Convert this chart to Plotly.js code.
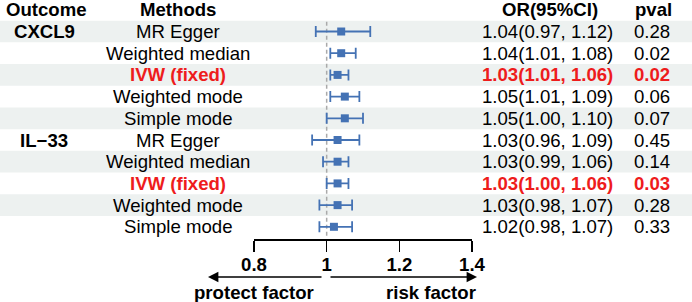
<!DOCTYPE html>
<html>
<head>
<meta charset="utf-8">
<script src="https://cdn.plot.ly/plotly-3.0.1.min.js"></script>
<style>html,body{margin:0;padding:0;background:#fff}#chart{width:692px;height:302px}</style>
</head>
<body>
<div id="chart"></div>
<script>
// ---- data ----
const outcomes = ['CXCL9', '', '', '', '', 'IL\u221233', '', '', '', ''];
const methods = ['MR Egger', 'Weighted median', 'IVW (fixed)', 'Weighted mode', 'Simple mode',
                 'MR Egger', 'Weighted median', 'IVW (fixed)', 'Weighted mode', 'Simple mode'];
const orVals = [1.04, 1.04, 1.03, 1.05, 1.05, 1.03, 1.03, 1.03, 1.03, 1.02];
const ciLow  = [0.97, 1.01, 1.01, 1.01, 1.00, 0.96, 0.99, 1.00, 0.98, 0.98];
const ciHigh = [1.12, 1.08, 1.06, 1.09, 1.10, 1.09, 1.06, 1.06, 1.07, 1.07];
const pvals  = ['0.28', '0.02', '0.02', '0.06', '0.07', '0.45', '0.14', '0.03', '0.28', '0.33'];
const highlight = [false, false, true, false, false, false, false, true, false, false];
const tickVals = [0.8, 1, 1.2, 1.4];
const tickLabels = ['0.8', '1', '1.2', '1.4'];
const headers = ['Outcome', 'Methods', 'OR(95%CI)', 'pval'];

// ---- layout helpers ----
const W = 692;
const FONT = 'Liberation Sans, Arial, Helvetica, sans-serif';
const RED = '#EE1C1C';
const BLUE = '#4472B4';
const FS = 18.6;
const rows = orVals.map((_, i) => i + 1);

const annotations = [];
const colX = {outcome: 44, method: 178, or: 547, p: 652};
const headX = [47, 178, 550, 653];
headers.forEach((h, k) => {
  annotations.push({xref: 'paper', yref: 'y', x: headX[k] / W, y: 0, text: '<b>' + h + '</b>',
    showarrow: false, xanchor: 'center', yanchor: 'middle', font: {family: FONT, size: FS, color: '#000'}});
});
rows.forEach((r, i) => {
  const col = highlight[i] ? RED : '#000';
  const b = s => highlight[i] ? '<b>' + s + '</b>' : s;
  if (outcomes[i]) annotations.push({xref: 'paper', yref: 'y', x: colX.outcome / W, y: r,
    text: '<b>' + outcomes[i] + '</b>', showarrow: false, xanchor: 'center', yanchor: 'middle',
    font: {family: FONT, size: FS, color: '#000'}});
  annotations.push({xref: 'paper', yref: 'y', x: colX.method / W, y: r, text: b(methods[i]),
    showarrow: false, xanchor: 'center', yanchor: 'middle', font: {family: FONT, size: FS, color: col}});
  const orTxt = orVals[i].toFixed(2) + '(' + ciLow[i].toFixed(2) + ', ' + ciHigh[i].toFixed(2) + ')';
  annotations.push({xref: 'paper', yref: 'y', x: colX.or / W, y: r, text: b(orTxt),
    showarrow: false, xanchor: 'center', yanchor: 'middle', font: {family: FONT, size: FS, color: col}});
  annotations.push({xref: 'paper', yref: 'y', x: colX.p / W, y: r, text: b(pvals[i]),
    showarrow: false, xanchor: 'center', yanchor: 'middle', font: {family: FONT, size: FS, color: col}});
});

// arrows and labels under the axis
const plotH = 239;
const arrowY = (plotH - 277) / plotH;
annotations.push({xref: 'paper', yref: 'paper', x: 208 / W, y: arrowY, ax: 115, ay: 0,
  axref: 'pixel', ayref: 'pixel', text: '', showarrow: true, arrowhead: 2, arrowsize: 1.3,
  arrowwidth: 1.6, arrowcolor: '#000', standoff: 0, startstandoff: 0});
annotations.push({xref: 'paper', yref: 'paper', x: 477 / W, y: arrowY, ax: -148, ay: 0,
  axref: 'pixel', ayref: 'pixel', text: '', showarrow: true, arrowhead: 2, arrowsize: 1.3,
  arrowwidth: 1.6, arrowcolor: '#000', standoff: 0, startstandoff: 0});
annotations.push({xref: 'paper', yref: 'paper', x: 254 / W, y: (plotH - 292) / plotH,
  text: '<b>protect factor</b>', showarrow: false, xanchor: 'center', yanchor: 'middle',
  font: {family: FONT, size: FS, color: '#000'}});
annotations.push({xref: 'paper', yref: 'paper', x: 431 / W, y: (plotH - 292) / plotH,
  text: '<b>risk factor</b>', showarrow: false, xanchor: 'center', yanchor: 'middle',
  font: {family: FONT, size: FS, color: '#000'}});

// shaded bands for odd rows
const shapes = [];
rows.forEach((r, i) => {
  if (i % 2 === 0) shapes.push({type: 'rect', xref: 'paper', yref: 'y', x0: 0, x1: 1,
    y0: r - 0.5, y1: r + 0.5, fillcolor: '#EDF1F0', line: {width: 0}, layer: 'below'});
});
shapes.push({type: 'line', xref: 'x', yref: 'y', x0: 1, x1: 1, y0: 0.55, y1: rows.length + 0.5,
  line: {color: '#AAAAAA', width: 1.5, dash: '4px,3px'}, layer: 'below'});

const trace = {
  type: 'scatter', mode: 'markers', x: orVals, y: rows,
  marker: {symbol: 'square', size: 8, color: BLUE},
  error_x: {type: 'data', symmetric: false,
    array: orVals.map((v, i) => ciHigh[i] - v),
    arrayminus: orVals.map((v, i) => v - ciLow[i]),
    color: BLUE, thickness: 1.8, width: 5.5},
  hoverinfo: 'skip', cliponaxis: false
};

const layout = {
  width: W, height: 302,
  margin: {l: 0, r: 0, t: 0, b: 63, pad: 0},
  paper_bgcolor: '#fff', plot_bgcolor: 'rgba(0,0,0,0)',
  showlegend: false,
  xaxis: {domain: [254 / W, 472 / W], range: [0.8, 1.4], tickvals: tickVals, ticktext: tickLabels,
    ticks: 'outside', ticklen: 11, tickwidth: 1.5, tickcolor: '#000', ticklabelstandoff: -3,
    showline: true, linewidth: 1.5, linecolor: '#000', showgrid: false, zeroline: false,
    tickfont: {family: FONT, size: FS, color: '#000', weight: 'bold'}, fixedrange: true},
  yaxis: {domain: [0, 1], range: [10.562, -0.452], showgrid: false, zeroline: false,
    showticklabels: false, ticks: '', showline: false, fixedrange: true},
  shapes: shapes, annotations: annotations
};

Plotly.newPlot('chart', [trace], layout, {displayModeBar: false, staticPlot: true});
</script>
</body>
</html>
